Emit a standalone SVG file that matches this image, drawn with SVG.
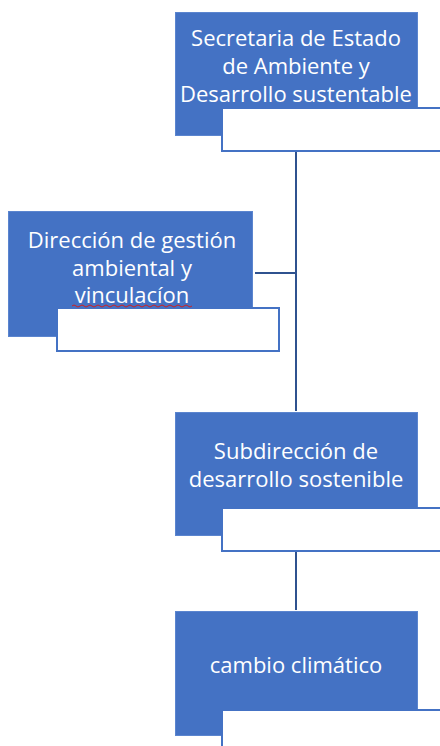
<svg xmlns="http://www.w3.org/2000/svg" width="440" height="746" viewBox="0 0 440 746">
<style>
.blue{fill:#4472C4;stroke:#5B85CF;stroke-width:1}
.white{fill:#FFFFFF;stroke:#4472C4;stroke-width:2}
.lbl{font-family:"Open Sans","Liberation Sans",sans-serif;font-size:22px;fill:#FFFFFF;text-anchor:middle}
.con{stroke:#2F528F;stroke-width:2;fill:none}
</style>
<rect width="440" height="746" fill="#FFFFFF"/>
<g id="connectors">
<line class="con" x1="296" y1="151" x2="296" y2="411"/>
<line class="con" x1="255" y1="273" x2="296" y2="273"/>
<line class="con" x1="296" y1="551" x2="296" y2="610"/>
</g>
<g id="secretaria">
<rect class="blue" x="175.5" y="12.5" width="242" height="123"/>
<rect class="white" x="222" y="108" width="230" height="43"/>
<text class="lbl" x="296" y="46">Secretaria de Estado</text>
<text class="lbl" x="296" y="74">de Ambiente y</text>
<text class="lbl" x="296" y="102">Desarrollo sustentable</text>
</g>
<g id="direccion">
<rect class="blue" x="8.5" y="211.5" width="244" height="125"/>
<rect class="white" x="57" y="308" width="222" height="43"/>
<text class="lbl" x="132" y="248">Dirección de gestión</text>
<text class="lbl" x="132" y="276">ambiental y</text>
<text class="lbl" x="132" y="303">vinculacíon</text>
<path d="M72 306 q2 -2 4 0 t4 0 t4 0 t4 0 t4 0 t4 0 t4 0 t4 0 t4 0 t4 0 t4 0 t4 0 t4 0 t4 0 t4 0 t4 0 t4 0 t4 0 t4 0 t4 0 t4 0 t4 0 t4 0 t4 0 t4 0 t4 0 t4 0 t4 0 t4 0 t4 0" fill="none" stroke="#D02020" stroke-width="1"/>
</g>
<g id="subdireccion">
<rect class="blue" x="175.5" y="412.5" width="242" height="123"/>
<rect class="white" x="222" y="508" width="230" height="43"/>
<text class="lbl" x="296" y="459">Subdirección de</text>
<text class="lbl" x="296" y="487">desarrollo sostenible</text>
</g>
<g id="cambio">
<rect class="blue" x="175.5" y="611.5" width="242" height="124"/>
<rect class="white" x="222" y="710" width="230" height="50"/>
<text class="lbl" x="296" y="673">cambio climático</text>
</g>
</svg>
